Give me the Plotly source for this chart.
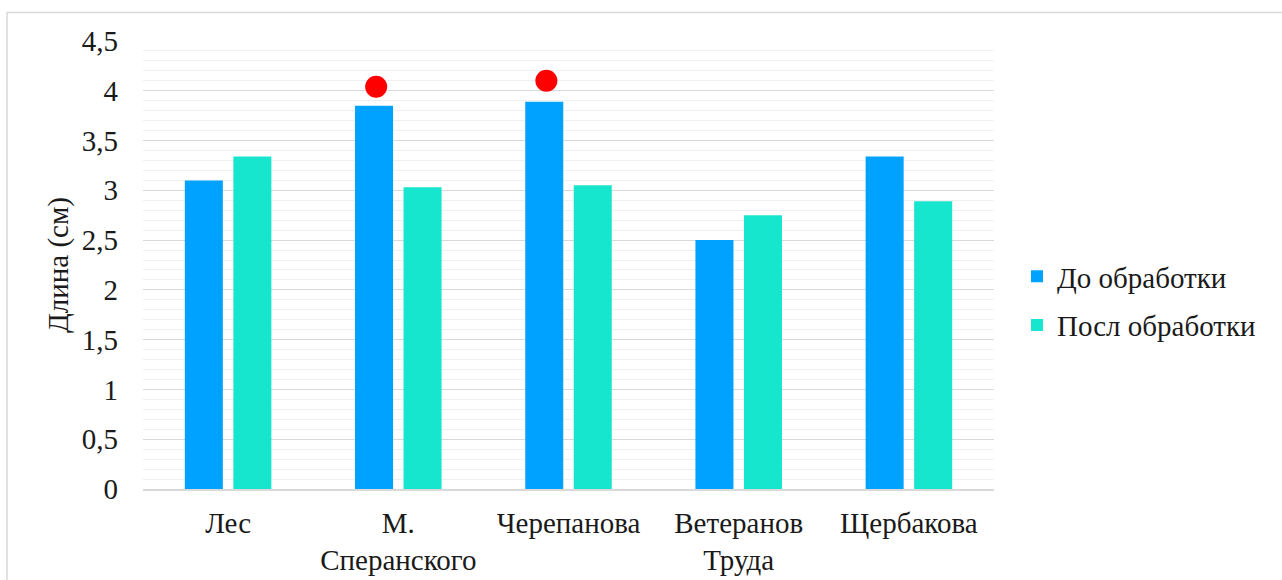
import plotly.graph_objects as go

# Sampling sites and measured lengths (cm)
categories = ["Лес", "М.<br>Сперанского", "Черепанова", "Ветеранов<br>Труда", "Щербакова"]
before_values = [3.10, 3.85, 3.89, 2.50, 3.34]
after_values = [3.34, 3.03, 3.05, 2.75, 2.89]

# Significance markers drawn above the "before" bars
marker_sites = [1, 2]
marker_values = [4.04, 4.10]

y_tick_values = [0, 0.5, 1, 1.5, 2, 2.5, 3, 3.5, 4, 4.5]
y_tick_labels = ["0", "0,5", "1", "1,5", "2", "2,5", "3", "3,5", "4", "4,5"]

BLUE = "#00A2FF"
TEAL = "#17E6CF"
FONT = "Liberation Serif"
TEXT = "#1a1a1a"
FS = 29

W, H = 1282, 580
ML, MR, MT, MB = 143, 288, 40.5, 90.5
BAR_OFFSET = 0.13  # horizontal shift of the markers toward the first bar of a group

x_pos = list(range(len(categories)))

fig = go.Figure()
fig.add_trace(go.Bar(x=x_pos, y=before_values, name="До обработки", legendgroup="before",
                     marker=dict(color=BLUE, line=dict(width=0))))
fig.add_trace(go.Bar(x=x_pos, y=after_values, name="Посл обработки", legendgroup="after",
                     marker=dict(color=TEAL, line=dict(width=0))))
fig.add_trace(go.Scatter(x=[x_pos[i] - BAR_OFFSET for i in marker_sites], y=marker_values,
                         mode="markers", showlegend=False,
                         marker=dict(color="#FF0000", size=22, line=dict(width=0))))

# Outer chart frame (paper coordinates relative to the plot area)
pw, ph = W - ML - MR, H - MT - MB
def px_to_paper_x(px):
    return (px - ML) / pw
def px_to_paper_y(py):
    return (H - MB - py) / ph

fig.add_shape(type="rect", xref="paper", yref="paper",
              x0=px_to_paper_x(7), x1=px_to_paper_x(W + 20),
              y0=px_to_paper_y(H + 20), y1=px_to_paper_y(12),
              line=dict(color="#D9D9D9", width=1.5), fillcolor="rgba(0,0,0,0)")

# Y axis title
fig.add_annotation(text="Длина (см)", xref="paper", yref="paper",
                   x=px_to_paper_x(58), y=px_to_paper_y(265),
                   textangle=-90, showarrow=False, xanchor="center", yanchor="middle",
                   font=dict(family=FONT, size=FS, color=TEXT))

fig.update_layout(
    width=W, height=H,
    margin=dict(l=ML, r=MR, t=MT, b=MB, autoexpand=False),
    plot_bgcolor="white", paper_bgcolor="white",
    barmode="group", bargap=0.43, bargroupgap=0.216,
    font=dict(family=FONT, size=FS, color=TEXT),
    legend=dict(x=px_to_paper_x(1017), xanchor="left",
                y=px_to_paper_y(301), yanchor="middle",
                font=dict(family=FONT, size=FS, color=TEXT),
                bgcolor="rgba(0,0,0,0)", traceorder="grouped", tracegroupgap=8),
    xaxis=dict(
        range=[-0.5, len(categories) - 0.5],
        tickmode="array", tickvals=x_pos, ticktext=categories,
        showgrid=False, zeroline=False, ticks="",
        showline=True, linecolor="#D9D9D9", linewidth=1.5,
        tickfont=dict(family=FONT, size=FS, color=TEXT),
        ticklabelstandoff=7,
    ),
    yaxis=dict(
        range=[0, 4.5],
        tickmode="array", tickvals=y_tick_values, ticktext=y_tick_labels,
        showgrid=True, gridcolor="#D9D9D9", gridwidth=1.3,
        zeroline=False, ticks="", showline=False,
        tickfont=dict(family=FONT, size=FS, color=TEXT),
        ticklabelstandoff=24,
        minor=dict(dtick=0.1, showgrid=True, gridcolor="#F0F0F0", gridwidth=1.3),
    ),
)

fig.write_html("out.html")
